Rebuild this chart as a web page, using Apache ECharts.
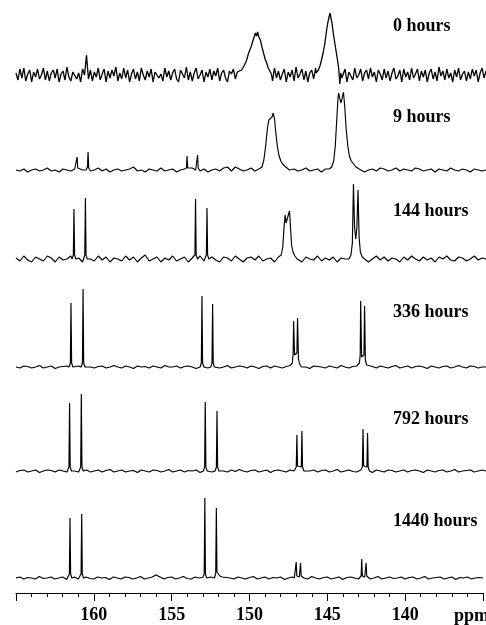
<!DOCTYPE html>
<html>
<head>
<meta charset="utf-8">
<script src="https://cdn.jsdelivr.net/npm/echarts@6/dist/echarts.min.js"></script>
<style>
  html, body { margin: 0; padding: 0; background: #fff; }
  #chart { width: 486px; height: 625px; }
</style>
</head>
<body>
<div id="chart"></div>
<script>
// ppm range of the spectra (axis is reversed: high ppm on the left)
const ppmHigh = 165;
const ppmLow = 135;

const hours = ["0 hours", "9 hours", "144 hours", "336 hours", "792 hours", "1440 hours"];

// baseline noise, equal steps from 165 ppm down to 135 ppm (intensity in screen px)
const noise0 = [
  2,-5,6,-3,7,-6,1,5,-7,3,-2,6,-4,0,7,-5,4,-6,2,5,
  -3,6,-7,1,4,-5,8,-2,-6,3,5,-4,2,-7,6,0,20,-4,5,-6,
  3,-2,7,-5,1,6,-7,4,-3,5,-1,8,-6,2,-4,7,-3,5,-7,1,
  6,-4,3,-6,7,0,-5,4,-2,6,-7,3,5,-3,1,-6,7,-2,4,-5,
  2,6,-4,-7,5,1,-3,8,-5,3,-6,2,7,-4,0,5,-7,3,-2,6,
  -5,4,-1,7,-6,2,5,-3,-7,4,1,6,-4,3,-6,5,-2,7,-3,1,
  4,-5,6,-2,3,-7,5,-1,6,-4,2,-6,7,-3,4,-5,1,6,-7,3,
  -2,5,-6,8,-3,1,6,-5,4,-7,2,5,-4,7,-1,-6,3,5,-3,6,
  -5,2,7,-4,1,-6,5,-2,6,-7,3,4,-5,7,-3,0,6,-6,2,5,
  -4,7,-2,3,-7,5,1,-5,6,-3,4,-6,2,7,-4,-1,5,-7,6,-2,
  3,-5,7,-3,1,6,-6,4,-2,5,-7,2,6,-4,3,-6,8,-1,4,-5,
  6,-3,2,-7,5,-2,7,-5,1,4,-6,3,-4,6,-1,5,-7,2,7,-3,
  4
];
const noise9 = [
  0,-1,1,-2,0,1,-1,0,2,-1,0,-2,1,0,-1,1,-2,0,1,-1,
  0,2,-1,1,-2,0,1,-1,0,1,3,-1,0,-2,1,0,-1,2,-1,0,
  1,-2,0,1,-1,2,0,-1,1,-2,0,1,-1,2,3,-1,3,1,-1,0,
  2,-1,1,0,-2,1,-1,0,1,-2,0,1,-1,0,2,-1,0,1,-2,1,
  0,-1,1,0,-1,2,0,-1,1,-2,0,1,-1,2,1,-1,0,2,-1,1,
  0,-1,2,1,-1,0,1,-2,1,0,-1,2,0,-1,1,0,-2,1,0,-1,
  0
];
const noise144 = [
  1,-2,3,-1,-3,2,0,-2,3,1,-3,2,-1,0,3,-2,1,-3,2,0,
  -2,3,-1,2,-3,1,0,-2,3,-1,2,-3,1,4,-2,0,2,-3,1,-1,
  3,-2,0,2,-3,1,-1,3,-2,0,2,-1,-3,2,1,-2,3,0,-3,1,
  2,-1,3,-2,0,1,-3,2,-1,3,0,-2,1,-3,2,0,-1,3,-2,1,
  -1,2,-3,1,0,3,-2,1,-1,2,-3,0,3,-1,2,-2,1,0,-3,2,
  -1,3,0,-2,2,-1,1,-3,2,0,3,-1,-2,2,1,-2,0,3,-1,1,
  0
];
const noise336 = [
  0,-1,1,0.5,-1,0,1.5,-1,0,1,-1.5,0,0.5,1,-1,0,1,-1.5,1,0,
  -1,0.5,1,-1,0,1.5,0,-1,1,0,-1.5,1,0,0.5,-1,1,0,-1,1.5,0,
  0,1,-1,0.5,1,0,-1.5,1,0,-1,0.5,1,-1,0,1.5,-1,0,1,0.5,-1,
  1,0,-1.5,0.5,1,-1,1,0,-1,0.5,1.5,0,-1,1,0,-1.5,1,0.5,0,-1,
  1,0,-1,1.5,0,-1,0.5,1,-1.5,1,0,0.5,-1,1,0,-1,0.5,1.5,-1,0,
  1,-1,0.5,1,0,-1.5,1,0,-1,0.5,1,-1,0,1.5,0,-1,1,0.5,-1,0,
  0
];
const noise792 = [
  -1,0.5,1,-1,0,1,-1.5,0,1,0.5,-1,1,0,-1,1.5,0,-1,0.5,1,-1,
  0,1,-1,0.5,1.5,-1,0,1,-1,0,0.5,-1.5,1,0,-1,1,0.5,-1,0,1.5,
  -1,0,1,-1,0.5,0,1,-1.5,0,1,-1,0.5,1,0,-1,1,-0.5,1.5,0,-1,
  0.5,1,-1,0,1,-1.5,0.5,1,0,-1,1,0,-1,1.5,-0.5,0,1,-1,0.5,1,
  -1,0,1.5,-1,0,1,-0.5,-1,1,0,0.5,-1.5,1,0,-1,1,0.5,-1,0,1,
  -1,0.5,1,0,-1.5,1,0,-1,0.5,1,-1,0,1.5,-1,0,0.5,1,-1,0,1,
  0
];
const noise1440 = [
  0,1,-1,0.5,0,-1,1.5,-0.5,0,1,-1,0,1,-1.5,0.5,1,-1,0,1,-0.5,
  -1,1,0,0.5,-1.5,1,0,-1,1,0.5,-1,0,1.5,-1,0,1,3,1,-1,0.5,
  1,-1,0,1.5,-0.5,-1,1,0,0.5,-1,1,0,-1.5,1,0.5,0,-1,1,0,-1,
  0.5,1.5,-1,0,1,-1,0.5,0,1,-1.5,0,1,-0.5,1,0,-1,1.5,0,-1,0.5,
  1,-1,0,1,-1.5,0.5,1,0,-1,1,0.5,-1,0,1.5,-1,0,1,-0.5,0,1,
  -1,0.5,1,-1,0,1.5,-1,0,0.5,1,-1,0,1,-1.5,0.5,0,1,-1,0,0.5,
  0
];

// resonances: groups of [ppm, intensity]
const peaks0 = [
  [[150.75,1],[150.6,5],[150.45,9],[150.3,14],[150.15,22],[150.0,28],[149.9,33],[149.8,38],[149.72,42],[149.65,39],[149.58,43],[149.5,38],[149.4,35],[149.3,28],[149.2,22],[149.1,16],[149.0,12],[148.9,7],[148.8,4],[148.7,1]],
  [[145.85,2],[145.7,5],[145.6,9],[145.5,15],[145.4,22],[145.3,30],[145.2,42],[145.1,52],[145.02,58],[144.95,62],[144.9,57],[144.83,52],[144.75,42],[144.65,32],[144.55,22],[144.47,14],[144.4,6],[144.33,-9],[144.27,2],[144.2,-3]],
];
const peaks9 = [
  [[161.22,0],[161.14,2],[161.1,13],[161.06,2],[160.98,0]],
  [[160.52,0],[160.44,3],[160.4,18],[160.36,2],[160.28,0]],
  [[154.2,0],[154.12,2],[154.08,14],[154.04,2],[153.96,0]],
  [[153.53,0],[153.45,2],[153.41,15],[153.37,2],[153.29,0]],
  [[149.5,1],[149.3,3],[149.18,10],[149.05,26],[148.95,42],[148.86,50],[148.81,52],[148.74,49],[148.66,53],[148.58,57],[148.5,51],[148.42,38],[148.32,24],[148.22,15],[148.1,9],[147.98,6],[147.85,4],[147.7,2],[147.55,0]],
  [[145.0,1],[144.85,3],[144.72,9],[144.62,24],[144.52,52],[144.44,74],[144.4,77],[144.33,71],[144.25,67],[144.17,73],[144.1,78],[144.02,64],[143.92,40],[143.82,24],[143.72,14],[143.6,9],[143.45,6],[143.3,3],[143.1,1]],
];
const peaks144 = [
  [[161.42,0],[161.34,4],[161.3,50],[161.26,4],[161.18,0]],
  [[160.69,0],[160.61,4],[160.57,61],[160.53,4],[160.45,0]],
  [[153.66,0],[153.58,4],[153.54,60],[153.5,4],[153.42,0]],
  [[152.93,0],[152.85,4],[152.81,51],[152.77,4],[152.69,0]],
  [[148.2,0],[148.07,4],[147.97,12],[147.89,32],[147.82,44],[147.76,36],[147.68,37],[147.6,45],[147.54,48],[147.48,32],[147.41,14],[147.32,7],[147.2,3],[147.05,0]],
  [[143.75,0],[143.62,4],[143.53,16],[143.46,75],[143.39,32],[143.31,20],[143.24,32],[143.17,69],[143.1,22],[143.02,7],[142.9,2],[142.75,0]],
];
const peaks336 = [
  [[161.61,0],[161.53,4],[161.49,64],[161.45,4],[161.37,0]],
  [[160.84,0],[160.76,4],[160.72,78],[160.68,4],[160.6,0]],
  [[153.25,0],[153.17,4],[153.13,71],[153.09,4],[153.01,0]],
  [[152.57,0],[152.49,4],[152.45,63],[152.41,4],[152.33,0]],
  [[147.48,0],[147.36,4],[147.31,14],[147.28,46],[147.22,12],[147.14,10],[147.07,14],[147.03,49],[146.97,8],[146.9,3],[146.78,0]],
  [[143.2,0],[143.08,4],[143.03,12],[143.0,66],[142.94,10],[142.86,8],[142.79,12],[142.75,61],[142.7,7],[142.62,2],[142.52,0]],
];
const peaks792 = [
  [[161.7,0],[161.62,4],[161.58,68],[161.54,4],[161.46,0]],
  [[160.95,0],[160.87,4],[160.83,77],[160.79,4],[160.71,0]],
  [[153.04,0],[152.96,4],[152.92,69],[152.88,4],[152.8,0]],
  [[152.29,0],[152.21,4],[152.17,60],[152.13,4],[152.05,0]],
  [[147.2,0],[147.11,4],[147.07,36],[147.03,5],[146.92,3],[146.79,4],[146.75,40],[146.71,4],[146.62,0]],
  [[142.97,0],[142.89,4],[142.85,42],[142.81,5],[142.7,3],[142.6,4],[142.56,38],[142.52,4],[142.44,0]],
];
const peaks1440 = [
  [[161.65,0],[161.57,4],[161.53,60],[161.49,4],[161.41,0]],
  [[160.9,0],[160.82,4],[160.78,64],[160.74,4],[160.66,0]],
  [[152.99,0],[152.91,4],[152.87,80],[152.83,4],[152.75,0]],
  [[152.25,0],[152.17,5],[152.13,70],[152.09,6],[152.0,5],[151.9,2],[151.8,0]],
  [[147.12,0],[147.04,2],[147.0,16],[146.96,2],[146.8,1],[146.76,2],[146.72,15],[146.68,2],[146.6,0]],
  [[142.92,0],[142.83,2],[142.79,19],[142.75,2],[142.6,1],[142.55,2],[142.51,15],[142.47,2],[142.39,0]],
];

const noiseSets = [noise0, noise9, noise144, noise336, noise792, noise1440];
const peakSets = [peaks0, peaks9, peaks144, peaks336, peaks792, peaks1440];

// layout (screen px)
const baselineY = [75, 170, 259, 367, 471, 578];
const labelY = [26, 117, 211, 312, 419, 521];
const above = 60;
const below = 15;
const serif = "'Liberation Serif', 'Times New Roman', serif";

function buildTrace(noise, groups) {
  const step = (ppmHigh - ppmLow) / (noise.length - 1);
  const ranges = groups.map((g) => {
    const xs = g.map((p) => p[0]);
    return [Math.min(...xs), Math.max(...xs)];
  });
  const pts = [];
  noise.forEach((y, i) => {
    const x = ppmHigh - i * step;
    if (!ranges.some((r) => x >= r[0] && x <= r[1])) pts.push([x, y]);
  });
  groups.forEach((g) => g.forEach((p) => pts.push(p)));
  pts.sort((a, b) => b[0] - a[0]);
  return pts;
}

const last = hours.length - 1;
const grids = [];
const xAxes = [];
const yAxes = [];
const series = [];

hours.forEach((name, i) => {
  grids.push({ left: 16, right: 0, top: baselineY[i] - above, height: above + below });
  xAxes.push({
    gridIndex: i,
    type: "value",
    min: ppmLow,
    max: ppmHigh,
    inverse: true,
    interval: 5,
    show: i === last,
    axisLine: { show: true, onZero: false, lineStyle: { color: "#000", width: 1 } },
    axisTick: { show: true, length: 8, lineStyle: { color: "#000", width: 1 } },
    minorTick: { show: true, splitNumber: 5, length: 4, lineStyle: { color: "#000", width: 1 } },
    splitLine: { show: false },
    axisLabel: {
      color: "#000",
      fontFamily: serif,
      fontWeight: "bold",
      fontSize: 18,
      margin: 13,
      formatter: (v) => (v === ppmLow || v === ppmHigh ? "" : String(v)),
    },
  });
  yAxes.push({ gridIndex: i, type: "value", min: -below, max: above, show: false });
  series.push({
    name,
    type: "line",
    xAxisIndex: i,
    yAxisIndex: i,
    data: buildTrace(noiseSets[i], peakSets[i]),
    showSymbol: false,
    symbol: "none",
    clip: false,
    silent: true,
    lineStyle: { color: "#000", width: i === 0 ? 1.3 : 1.15 },
  });
});

const graphics = hours.map((name, i) => ({
  type: "text",
  x: 393,
  y: labelY[i],
  style: { text: name, font: "bold 18px " + serif, fill: "#000", verticalAlign: "middle" },
}));
graphics.push({
  type: "text",
  x: 454,
  y: 616,
  style: { text: "ppm", font: "bold 18px " + serif, fill: "#000", verticalAlign: "middle" },
});

const chart = echarts.init(document.getElementById("chart"));
chart.setOption({
  animation: false,
  backgroundColor: "#fff",
  grid: grids,
  xAxis: xAxes,
  yAxis: yAxes,
  series,
  graphic: graphics,
});
</script>
</body>
</html>
